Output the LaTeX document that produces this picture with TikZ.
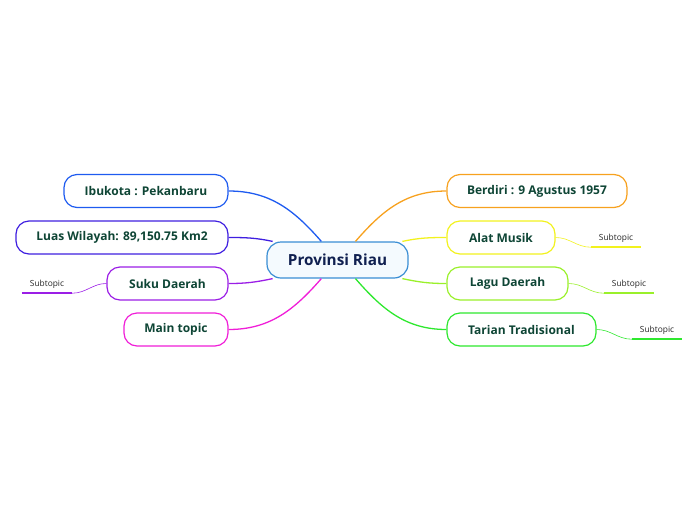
\documentclass[tikz,border=0pt]{standalone}
\usepackage{fontspec}
\setmainfont{Open Sans}
\usetikzlibrary{positioning, calc}
\definecolor{txtgreen}{HTML}{0E4535}
\definecolor{rootline}{HTML}{3A8ED4}
\definecolor{rootfill}{HTML}{F4FAFE}
\definecolor{rootnavy}{HTML}{102050}
\definecolor{cIbu}{HTML}{1E5BF0}
\definecolor{cLuas}{HTML}{3F1FE0}
\definecolor{cSuku}{HTML}{9B1EE6}
\definecolor{cMain}{HTML}{F01ED8}
\definecolor{cBerdiri}{HTML}{F7A11E}
\definecolor{cAlat}{HTML}{F2F21E}
\definecolor{cLagu}{HTML}{9AF02A}
\definecolor{cTari}{HTML}{2EE82E}
\tikzset{
    % central topic, pale pill with blue border
    root/.style={draw=rootline, fill=rootfill, line width=1.2pt, rounded corners=14pt,
        minimum width=141pt, minimum height=36pt, inner sep=0pt,
        font=\bfseries\fontsize{15.3}{17}\selectfont, text=rootnavy},
    % main topics, white pill in the branch colour
    topic/.style={draw=#1, fill=white, line width=1.2pt, rounded corners=13pt,
        minimum height=33pt, inner sep=0pt,
        font=\bfseries\fontsize{12}{14}\selectfont, text=txtgreen},
    % subtopics, small plain text over a coloured underline
    subtopic/.style={minimum width=50pt, minimum height=18pt, inner sep=0pt,
        font=\fontsize{8.4}{10}\selectfont, text=black!85},
    % branch connectors
    branch/.style={draw=#1, line width=1.3pt},
    twig/.style={draw=#1, line width=0.6pt},
    underline/.style={draw=#1, line width=1.6pt},
}

\begin{document}
\begin{tikzpicture}[x=1pt, y=-1pt]
    \useasboundingbox (0,0) rectangle (696,520);

    % --- central topic ---
    \node[root] (riau) at (337.5, 260) {Provinsi Riau};

    % --- left topics ---
    \node[topic=cIbu,  minimum width=164pt] (ibukota) at (146, 191)   {Ibukota : Pekanbaru};
    \node[topic=cLuas, minimum width=212pt] (luas)    at (122, 237.5) {Luas Wilayah: 89,150.75 Km2};
    \node[topic=cSuku, minimum width=121pt] (suku)    at (167.5, 283.5) {Suku Daerah};
    \node[topic=cMain, minimum width=104pt] (maintop) at (176, 329.5) {Main topic};

    % --- right topics ---
    \node[topic=cBerdiri, minimum width=180pt] (berdiri) at (537, 191)     {Berdiri : 9 Agustus 1957};
    \node[topic=cAlat,    minimum width=108pt] (alat)    at (501, 237.5)   {Alat Musik};
    \node[topic=cLagu,    minimum width=121pt] (lagu)    at (507.5, 283.5) {Lagu Daerah};
    \node[topic=cTari,    minimum width=149pt] (tarian)  at (521.5, 329.5) {Tarian Tradisional};

    % root -> topics
    \draw[branch=cIbu]  (ibukota.east) to[out=0, in=131] (riau.131);
    \draw[branch=cLuas] (luas.east)    to[out=0, in=168] (riau.164);
    \draw[branch=cSuku] (suku.east)    to[out=0, in=192] (riau.196);
    \draw[branch=cMain] (maintop.east) to[out=0, in=229] (riau.229);
    \draw[branch=cBerdiri] (riau.46)  to[out=49, in=180]  (berdiri.west);
    \draw[branch=cAlat]    (riau.16)  to[out=12, in=180]  (alat.west);
    \draw[branch=cLagu]    (riau.344) to[out=-12, in=180] (lagu.west);
    \draw[branch=cTari]    (riau.314) to[out=-49, in=180] (tarian.west);

    % --- subtopics ---
    \node[subtopic] (subSuku) at (47, 284)  {Subtopic};
    \node[subtopic] (subAlat) at (616, 238) {Subtopic};
    \node[subtopic] (subLagu) at (629, 284) {Subtopic};
    \node[subtopic] (subTari) at (657, 330) {Subtopic};

    \draw[twig=cSuku] (suku.west) to[out=180, in=0] (subSuku.south east);
    \draw[underline=cSuku] (subSuku.south west) -- (subSuku.south east);
    \foreach \p/\s/\c in {alat/subAlat/cAlat, lagu/subLagu/cLagu, tarian/subTari/cTari}{
        \draw[twig=\c] (\p.east) to[out=0, in=180] (\s.south west);
        \draw[underline=\c] (\s.south west) -- (\s.south east);
    }

\end{tikzpicture}
\end{document}
